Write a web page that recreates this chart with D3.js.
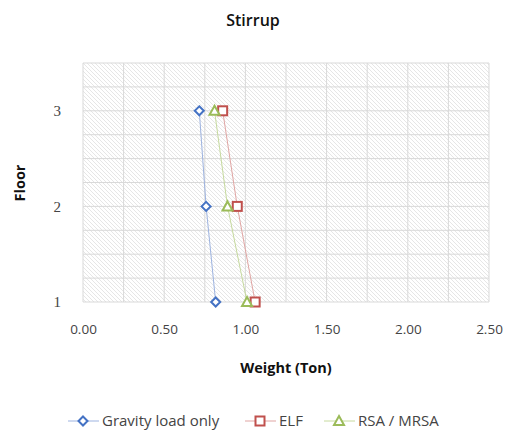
<!DOCTYPE html>
<html><head><meta charset="utf-8">
<script src="https://cdn.jsdelivr.net/npm/d3@7"></script>
<style>body{margin:0;background:#fff}svg{display:block}</style>
</head><body>
<svg id="c" width="510" height="430"></svg>
<script>
const floors = [1, 2, 3];
const gravity = [0.817, 0.758, 0.716];
const elf = [1.06, 0.95, 0.86];
const rsa = [1.01, 0.89, 0.81];
const xTicks = [0, 0.5, 1, 1.5, 2, 2.5];
const yTicks = [1, 2, 3];
const seriesNames = ["Gravity load only", "ELF", "RSA / MRSA"];

const svg = d3.select("#c");
const L = 83, R = 489, T = 63, B = 302;
const x = d3.scaleLinear().domain([0, 2.5]).range([L, R]);
const y = d3.scaleLinear().domain([1, 3.5]).range([B, T]);

const defs = svg.append("defs");
const pat = defs.append("pattern").attr("id", "hatch").attr("patternUnits", "userSpaceOnUse")
  .attr("width", 4).attr("height", 4);
pat.append("rect").attr("width", 4).attr("height", 4).attr("fill", "#fff");
pat.append("path").attr("d", "M-1,-1L5,5M-1,3L1,5M3,-1L5,1").attr("stroke", "#e6e6e6").attr("stroke-width", 1);

svg.append("rect").attr("x", L).attr("y", T).attr("width", R - L).attr("height", B - T).attr("fill", "url(#hatch)");

// grid
const gx = d3.range(0, 2.5001, 0.25);
const gy = d3.range(1, 3.5001, 0.25);
svg.append("g").selectAll("line").data(gx).join("line")
  .attr("x1", d => x(d)).attr("x2", d => x(d)).attr("y1", T).attr("y2", B)
  .attr("stroke", "#d9d9d9").attr("stroke-width", 1);
svg.append("g").selectAll("line").data(gy).join("line")
  .attr("y1", d => y(d)).attr("y2", d => y(d)).attr("x1", L).attr("x2", R)
  .attr("stroke", "#d9d9d9").attr("stroke-width", 1);

// axes
const xAxis = svg.append("g").attr("transform", `translate(0,${B})`)
  .call(d3.axisBottom(x).tickValues(xTicks).tickFormat(d3.format(".2f")).tickSize(0).tickPadding(22));
xAxis.select(".domain").remove();
xAxis.selectAll("text").attr("font-family", "'Open Sans', sans-serif").attr("font-size", 13.5).attr("fill", "#444");

const yAxis = svg.append("g").attr("transform", `translate(${L},0)`)
  .call(d3.axisLeft(y).tickValues(yTicks).tickFormat(d3.format("d")).tickSize(0).tickPadding(22));
yAxis.select(".domain").remove();
yAxis.selectAll("text").attr("font-family", "'Liberation Serif', serif").attr("font-size", 15).attr("fill", "#444");

// titles
svg.append("text").attr("x", 253).attr("y", 26).attr("text-anchor", "middle")
  .attr("font-family", "'Open Sans', sans-serif").attr("font-size", 16).attr("font-weight", 600).attr("fill", "#111").text("Stirrup");
svg.append("text").attr("x", 286).attr("y", 373).attr("text-anchor", "middle")
  .attr("font-family", "'Open Sans', sans-serif").attr("font-size", 14.5).attr("font-weight", 700).attr("fill", "#111").text("Weight (Ton)");
svg.append("text").attr("transform", "translate(25,183) rotate(-90)").attr("text-anchor", "middle")
  .attr("font-family", "'Open Sans', sans-serif").attr("font-size", 14.5).attr("font-weight", 700).attr("fill", "#111").text("Floor");

const series = [
  {name: seriesNames[0], vals: gravity, color: "#4472C4", line: "#9db3e0", sym: "diamond"},
  {name: seriesNames[1], vals: elf, color: "#C0504D", line: "#e0a5a3", sym: "square"},
  {name: seriesNames[2], vals: rsa, color: "#9BBB59", line: "#c6da9e", sym: "triangle"}
];
function marker(g, s, cx, cy) {
  if (s.sym === "diamond") {
    g.append("path").attr("d", `M${cx},${cy-4.5}L${cx+4.5},${cy}L${cx},${cy+4.5}L${cx-4.5},${cy}Z`)
      .attr("fill", "#fff").attr("stroke", s.color).attr("stroke-width", 2);
  } else if (s.sym === "square") {
    g.append("rect").attr("x", cx - 4.5).attr("y", cy - 4.5).attr("width", 9).attr("height", 9)
      .attr("fill", "#fff").attr("stroke", s.color).attr("stroke-width", 2);
  } else {
    g.append("path").attr("d", `M${cx},${cy-5}L${cx+5},${cy+4}L${cx-5},${cy+4}Z`)
      .attr("fill", "#fff").attr("stroke", s.color).attr("stroke-width", 2);
  }
}
const line = d3.line().x(d => x(d[0])).y(d => y(d[1]));
series.forEach(s => {
  const pts = s.vals.map((v, i) => [v, floors[i]]);
  svg.append("path").attr("d", line(pts)).attr("fill", "none").attr("stroke", s.line).attr("stroke-width", 1);
  const g = svg.append("g");
  pts.forEach(p => marker(g, s, x(p[0]), y(p[1])));
});

// legend
const legX = [68, 245, 324];
series.forEach((s, i) => {
  const g = svg.append("g");
  const lx = legX[i], ly = 421;
  g.append("line").attr("x1", lx).attr("x2", lx + 31).attr("y1", ly).attr("y2", ly).attr("stroke", s.line).attr("stroke-width", 1);
  marker(g, s, lx + 15, ly);
  g.append("text").attr("x", lx + 34).attr("y", ly + 5).attr("font-family", "'Open Sans', sans-serif")
    .attr("font-size", 15).attr("fill", "#444").text(s.name);
});
</script>
</body></html>
